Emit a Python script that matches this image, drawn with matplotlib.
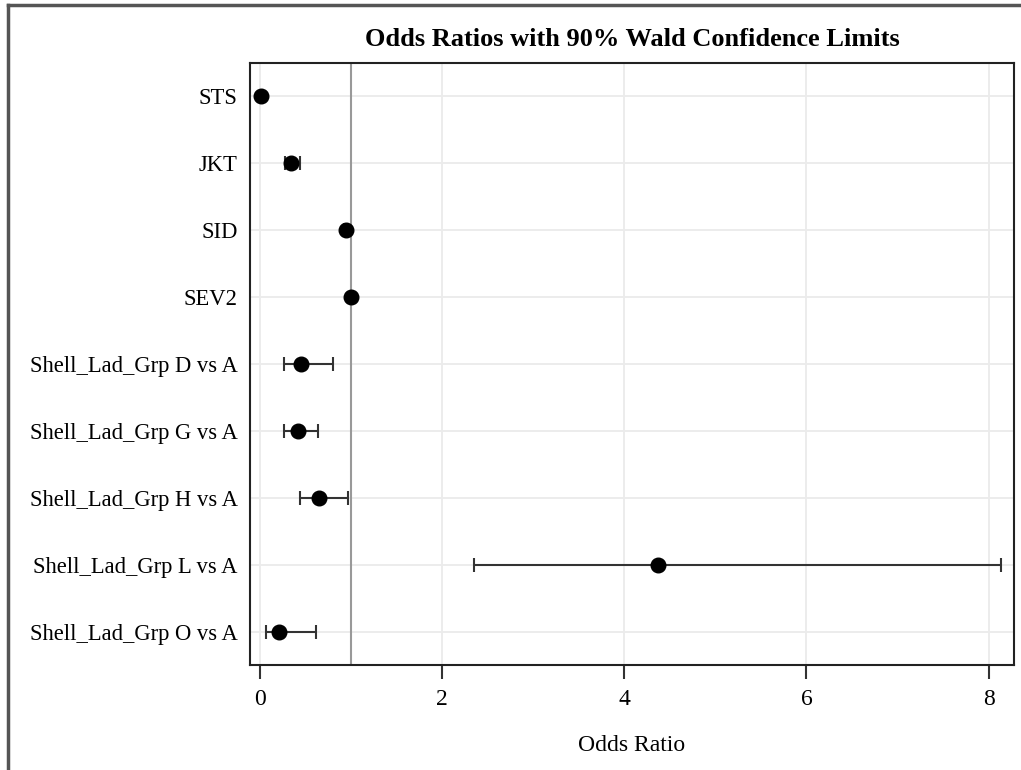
import numpy as np
import matplotlib.pyplot as plt
from matplotlib.lines import Line2D

# Datos
efectos = ["STS", "JKT", "SID", "SEV2",
           "Shell_Lad_Grp D vs A", "Shell_Lad_Grp G vs A",
           "Shell_Lad_Grp H vs A", "Shell_Lad_Grp L vs A",
           "Shell_Lad_Grp O vs A"]
odds_ratio = [0.01, 0.34, 0.94, 1.00, 0.45, 0.42, 0.65, 4.37, 0.21]
lim_inf = [0.005, 0.27, 0.92, 0.99, 0.26, 0.26, 0.44, 2.35, 0.07]
lim_sup = [0.02, 0.44, 0.96, 1.01, 0.80, 0.64, 0.97, 8.14, 0.62]
ticks_x = [0, 2, 4, 6, 8]

plt.rcParams['font.family'] = ['Liberation Serif', 'DejaVu Serif']

fig = plt.figure(figsize=(10.21, 7.7), dpi=100)
ax = fig.add_axes([250/1021, 1-665/770, 764/1021, 602/770])

pos = np.arange(len(efectos))
odds = np.array(odds_ratio)
err = [odds - np.array(lim_inf), np.array(lim_sup) - odds]

# rejilla y linea de referencia
for t in ticks_x:
    ax.axvline(t, color='#ebebeb', lw=1.3, zorder=0)
for p in pos:
    ax.axhline(p, color='#ebebeb', lw=1.3, zorder=0)
ax.axvline(1, color='#999999', lw=1.5, zorder=1)

ax.errorbar(odds, pos, xerr=err, fmt='o', color='black', ecolor='#333333',
            elinewidth=1.5, capsize=5, capthick=1.5, markersize=10.5, zorder=3)

ax.set_xlim(-0.11, 8.28)
ax.set_ylim(len(efectos) - 0.5, -0.5)
ax.set_xticks(ticks_x)
ax.set_yticks(pos)
ax.set_yticklabels(efectos)
ax.tick_params(axis='x', length=10, width=1.5, color='#333333', labelsize=17, pad=7)
ax.tick_params(axis='y', length=0, labelsize=16.3, pad=9)
for s in ax.spines.values():
    s.set_linewidth(1.5)
    s.set_color('#222222')

ax.set_xlabel("Odds Ratio", fontsize=17, labelpad=18)
ax.set_title("Odds Ratios with 90% Wald Confidence Limits",
             fontsize=19, fontweight='bold', pad=12)

# marco exterior de la figura
fig.add_artist(Line2D([8/1021, 1], [1-5/770, 1-5/770], color='#555555', lw=2.5))
fig.add_artist(Line2D([8/1021, 8/1021], [0, 1-5/770], color='#555555', lw=2.5))

fig.savefig("out.png", dpi=100)
